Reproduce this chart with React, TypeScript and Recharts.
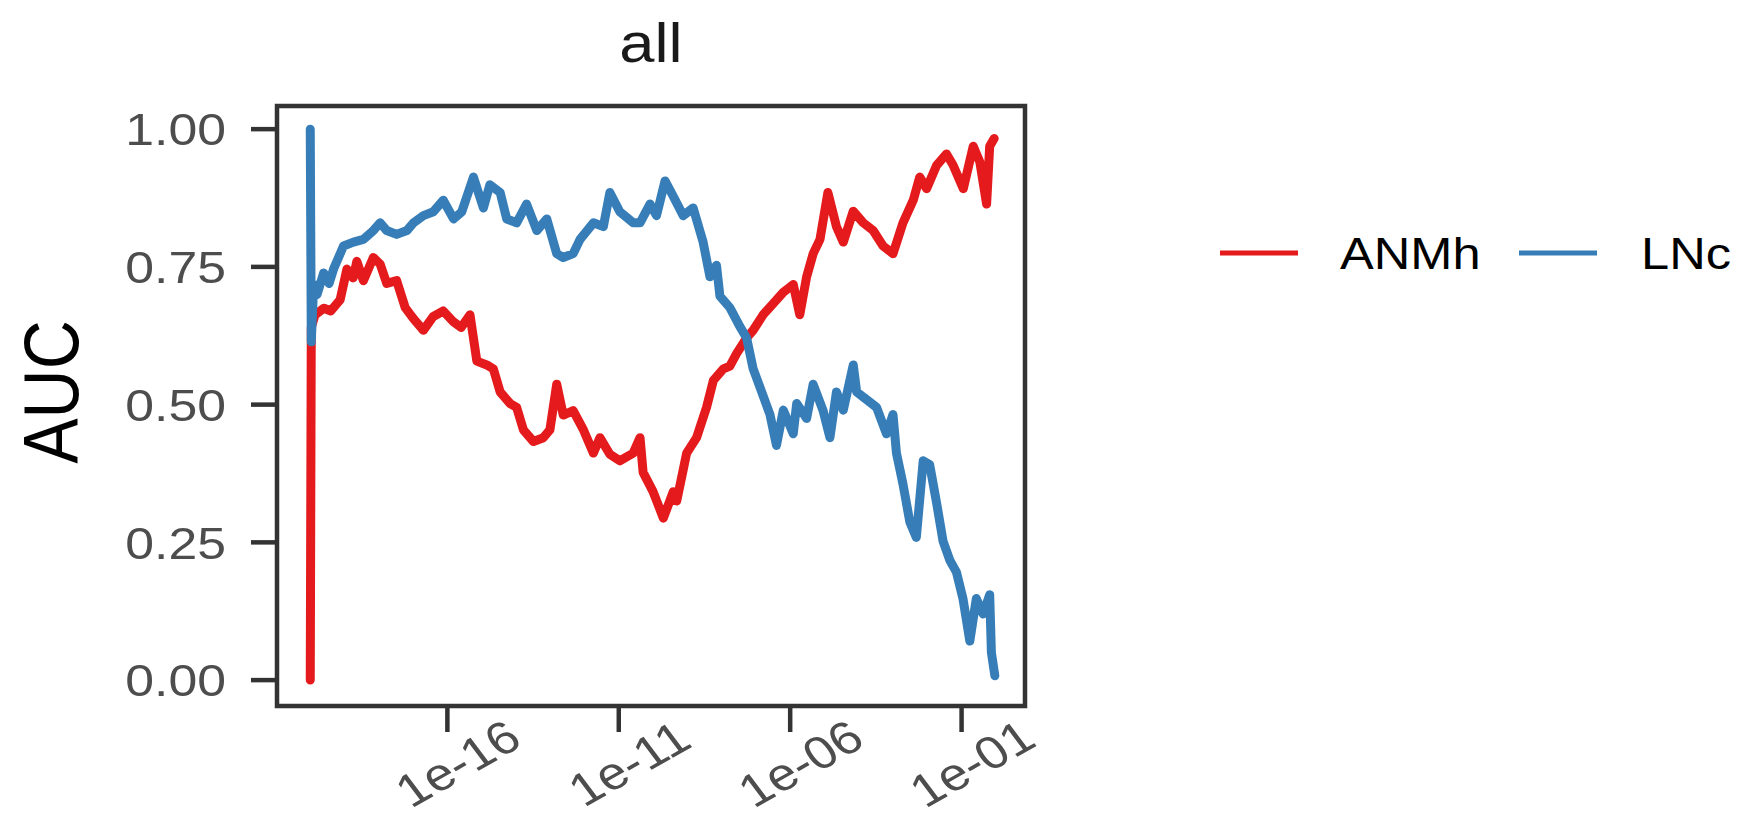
import { LineChart, Line, XAxis, YAxis, ReferenceArea } from 'recharts';

// x = log10 of the p-value threshold, y = AUC
const anmhLogP = [-20.0, -19.97, -19.86, -19.6, -19.4, -19.13, -18.93, -18.75, -18.64, -18.45, -18.16, -17.96, -17.77, -17.48, -17.23, -16.99, -16.7, -16.41, -16.12, -15.82, -15.6, -15.34, -15.14, -14.85, -14.66, -14.46, -14.17, -13.98, -13.78, -13.49, -13.2, -13.01, -12.81, -12.62, -12.33, -12.03, -11.74, -11.55, -11.26, -10.97, -10.58, -10.38, -10.29, -10.0, -9.7, -9.41, -9.31, -9.02, -8.73, -8.44, -8.24, -7.95, -7.76, -7.56, -7.27, -7.08, -6.79, -6.5, -6.2, -5.91, -5.72, -5.52, -5.33, -5.13, -4.9, -4.65, -4.45, -4.16, -3.87, -3.58, -3.29, -3.0, -2.71, -2.41, -2.22, -2.02, -1.73, -1.44, -1.25, -0.95, -0.66, -0.47, -0.27, -0.18, -0.05];
const anmhAuc = [0.0, 0.64, 0.663, 0.675, 0.67, 0.69, 0.746, 0.73, 0.76, 0.725, 0.767, 0.755, 0.72, 0.725, 0.676, 0.656, 0.635, 0.66, 0.67, 0.65, 0.64, 0.663, 0.579, 0.572, 0.565, 0.523, 0.502, 0.495, 0.454, 0.433, 0.44, 0.454, 0.537, 0.481, 0.489, 0.454, 0.412, 0.44, 0.41, 0.398, 0.412, 0.44, 0.377, 0.342, 0.294, 0.342, 0.325, 0.412, 0.44, 0.495, 0.544, 0.565, 0.57, 0.593, 0.621, 0.635, 0.663, 0.683, 0.704, 0.718, 0.663, 0.732, 0.774, 0.8, 0.885, 0.823, 0.795, 0.851, 0.83, 0.816, 0.788, 0.774, 0.83, 0.871, 0.913, 0.892, 0.934, 0.955, 0.935, 0.892, 0.969, 0.941, 0.864, 0.969, 0.983];

const lncLogP = [-20.0, -19.97, -19.9, -19.8, -19.61, -19.45, -19.32, -19.03, -18.74, -18.45, -18.16, -17.96, -17.77, -17.48, -17.18, -16.99, -16.7, -16.41, -16.12, -15.82, -15.58, -15.24, -14.95, -14.76, -14.46, -14.27, -13.98, -13.69, -13.39, -13.1, -12.81, -12.62, -12.33, -12.13, -11.74, -11.45, -11.26, -10.97, -10.58, -10.38, -10.09, -9.9, -9.65, -9.41, -9.12, -8.83, -8.54, -8.34, -8.15, -8.05, -7.76, -7.47, -7.27, -7.08, -6.79, -6.59, -6.4, -6.2, -5.91, -5.81, -5.52, -5.33, -5.04, -4.84, -4.65, -4.45, -4.16, -4.06, -3.77, -3.48, -3.19, -3.0, -2.9, -2.71, -2.51, -2.32, -2.12, -1.93, -1.73, -1.54, -1.34, -1.15, -0.96, -0.76, -0.57, -0.37, -0.18, -0.13, -0.03];
const lncAuc = [1.0, 0.614, 0.718, 0.7, 0.739, 0.72, 0.746, 0.788, 0.795, 0.8, 0.816, 0.83, 0.816, 0.809, 0.816, 0.83, 0.843, 0.85, 0.871, 0.837, 0.85, 0.913, 0.857, 0.899, 0.885, 0.837, 0.83, 0.864, 0.816, 0.837, 0.774, 0.767, 0.774, 0.8, 0.83, 0.823, 0.885, 0.85, 0.83, 0.83, 0.864, 0.843, 0.906, 0.878, 0.843, 0.857, 0.795, 0.732, 0.753, 0.697, 0.676, 0.642, 0.621, 0.565, 0.516, 0.482, 0.426, 0.49, 0.447, 0.502, 0.475, 0.537, 0.489, 0.44, 0.523, 0.49, 0.572, 0.523, 0.509, 0.495, 0.447, 0.482, 0.412, 0.356, 0.287, 0.259, 0.398, 0.391, 0.322, 0.252, 0.217, 0.196, 0.148, 0.071, 0.148, 0.12, 0.155, 0.05, 0.008];

const xTicks = [-16, -11, -6, -1];
const xTickLabels = ['1e-16', '1e-11', '1e-06', '1e-01'];
const yTicks = [0, 0.25, 0.5, 0.75, 1];
const yTickLabels = ['0.00', '0.25', '0.50', '0.75', '1.00'];

const anmhData = anmhLogP.map((x, i) => ({ x, y: anmhAuc[i] }));
const lncData = lncLogP.map((x, i) => ({ x, y: lncAuc[i] }));

const FONT = '"Liberation Sans", Arial, Helvetica, sans-serif';
const SX = 1.15; // source image is a bit wider than tall
const RED = '#E41A1C';
const BLUE = '#377EB8';
const X_DOMAIN = [-20.97, 0.85];
const Y_DOMAIN = [-0.047, 1.042];

function YTick({ x, y, payload }: any) {
  const label = yTickLabels[yTicks.indexOf(payload.value)];
  return (
    <g transform={`translate(${x},${y}) scale(${SX},1)`}>
      <text x={0} y={0} dy="0.36em" textAnchor="end" fill="#4d4d4d" fontSize={45} fontFamily={FONT}>
        {label}
      </text>
    </g>
  );
}

function XTick({ x, y, payload }: any) {
  const label = xTickLabels[xTicks.indexOf(payload.value)];
  return (
    <g transform={`translate(${x + 10},${y + 31}) scale(${SX},1) rotate(-33)`}>
      <text x={0} y={0} dy="0.36em" textAnchor="middle" fill="#4d4d4d" fontSize={46} fontFamily={FONT}>
        {label}
      </text>
    </g>
  );
}

export default function App() {
  return (
    <div style={{ position: 'absolute', left: 0, top: 0, width: 1749, height: 826, background: '#fff' }}>
      <LineChart width={1749} height={826} margin={{ top: 106, right: 724, bottom: 0, left: 0 }}>
        <XAxis
          dataKey="x"
          type="number"
          domain={X_DOMAIN}
          allowDataOverflow
          ticks={xTicks}
          height={120}
          axisLine={false}
          tickLine={{ stroke: '#333333', strokeWidth: 4.5 }}
          tickSize={26}
          tickMargin={0}
          tick={<XTick />}
          interval={0}
        />
        <YAxis
          type="number"
          domain={Y_DOMAIN}
          allowDataOverflow
          ticks={yTicks}
          width={277}
          axisLine={false}
          tickLine={{ stroke: '#333333', strokeWidth: 4.5 }}
          tickSize={26}
          tickMargin={25}
          tick={<YTick />}
          interval={0}
        />
        <ReferenceArea
          x1={X_DOMAIN[0]}
          x2={X_DOMAIN[1]}
          y1={Y_DOMAIN[0]}
          y2={Y_DOMAIN[1]}
          fill="none"
          fillOpacity={0}
          stroke="#333333"
          strokeWidth={4.5}
          ifOverflow="visible"
        />
        <Line
          data={anmhData}
          dataKey="y"
          type="linear"
          stroke={RED}
          strokeWidth={9}
          strokeLinejoin="round"
          strokeLinecap="round"
          dot={false}
          activeDot={false}
          isAnimationActive={false}
          name="ANMh"
        />
        <Line
          data={lncData}
          dataKey="y"
          type="linear"
          stroke={BLUE}
          strokeWidth={9}
          strokeLinejoin="round"
          strokeLinecap="round"
          dot={false}
          activeDot={false}
          isAnimationActive={false}
          name="LNc"
        />
      </LineChart>

      {/* title, y title and legend, in the same pixel frame as the chart */}
      <svg width={1749} height={826} style={{ position: 'absolute', left: 0, top: 0, pointerEvents: 'none' }}>
        <text transform={`translate(651,62) scale(${SX},1)`} textAnchor="middle" fontSize={55} fontFamily={FONT} fill="#1a1a1a">
          all
        </text>
        <text transform={`translate(78,392) scale(${SX},1) rotate(-90)`} textAnchor="middle" fontSize={68} fontFamily={FONT} fill="#000">
          AUC
        </text>
        <line x1={1220} x2={1298} y1={253} y2={253} stroke={RED} strokeWidth={5} />
        <text transform={`translate(1340,269) scale(${SX},1)`} fontSize={44} fontFamily={FONT} fill="#000">
          ANMh
        </text>
        <line x1={1519} x2={1597} y1={253} y2={253} stroke={BLUE} strokeWidth={5} />
        <text transform={`translate(1641,269) scale(${SX},1)`} fontSize={44} fontFamily={FONT} fill="#000">
          LNc
        </text>
      </svg>
    </div>
  );
}
